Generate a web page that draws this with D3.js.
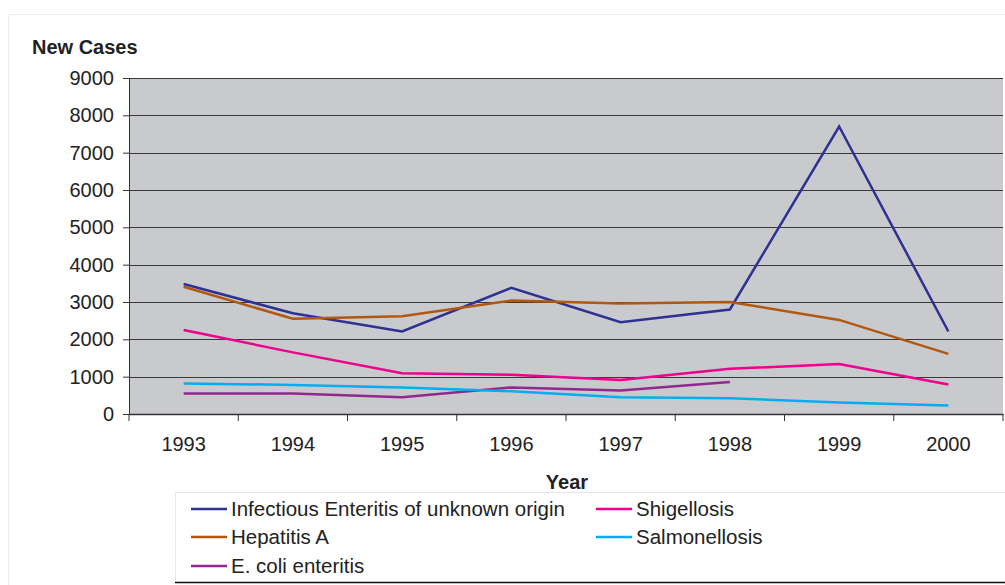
<!DOCTYPE html>
<html>
<head>
<meta charset="utf-8">
<script src="https://cdn.jsdelivr.net/npm/d3@7"></script>
<style>
  body { margin: 0; background: #fff; }
  text { font-family: "Liberation Sans", Arial, sans-serif; fill: #222; }
</style>
</head>
<body>
<script>
// Chart data
const years = ["1993", "1994", "1995", "1996", "1997", "1998", "1999", "2000"];
const yTicks = [0, 1000, 2000, 3000, 4000, 5000, 6000, 7000, 8000, 9000];

const infectious = [3480, 2700, 2210, 3380, 2460, 2800, 7700, 2210];
const hepatitisA = [3410, 2550, 2620, 3040, 2960, 3000, 2520, 1610];
const shigellosis = [2250, 1650, 1090, 1050, 910, 1210, 1340, 790];
const salmonellosis = [820, 780, 710, 610, 450, 420, 310, 230];
const ecoli = [550, 550, 450, 710, 630, 860, null, null];

const seriesNames = ["Infectious Enteritis of unknown origin", "Hepatitis A", "E. coli enteritis", "Shigellosis", "Salmonellosis"];
const seriesValues = [infectious, hepatitisA, ecoli, shigellosis, salmonellosis];
const seriesColors = ["#2e3192", "#b0580f", "#92278f", "#ec008c", "#00aeef"];

// Size and plot area
const width = 1005;
const height = 585;
const plotLeft = 129;
const plotRight = 1003;
const plotTop = 78;
const plotBottom = 414;

const svg = d3.select("body").append("svg")
    .attr("width", width)
    .attr("height", height);

// Faint outer frame
svg.append("rect")
    .attr("x", 8.5).attr("y", 14.5)
    .attr("width", width).attr("height", height)
    .attr("fill", "none").attr("stroke", "#eeeeee");

// Scales
let xScale = d3.scaleBand().domain(years).range([plotLeft, plotRight]).padding(0);
let yScale = d3.scaleLinear().domain([0, 9000]).range([plotBottom, plotTop]);

// Plot background
svg.append("rect")
    .attr("x", plotLeft).attr("y", plotTop)
    .attr("width", plotRight - plotLeft).attr("height", plotBottom - plotTop)
    .attr("fill", "#c9cace");

// Horizontal grid lines
svg.append("g")
    .selectAll("line")
    .data(yTicks.slice(1))
    .enter()
    .append("line")
    .attr("x1", plotLeft).attr("x2", plotRight)
    .attr("y1", d => Math.round(yScale(d)) + 0.5)
    .attr("y2", d => Math.round(yScale(d)) + 0.5)
    .attr("stroke", "#3a3a3a")
    .attr("stroke-width", 1);

// Y axis
let yAxis = d3.axisLeft(yScale).tickValues(yTicks).tickFormat(d3.format("d")).tickSize(6).tickPadding(9);
let yAxisRef = svg.append("g")
    .attr("transform", `translate(${plotLeft}, 0)`)
    .call(yAxis);
yAxisRef.attr("font-size", null);
yAxisRef.selectAll("text").style("font-size", "20px").attr("fill", "#222");
yAxisRef.selectAll("line, path").attr("stroke", "#333");

// X axis, ticks sit on band boundaries
let xAxis = d3.axisBottom(xScale).tickSize(0).tickPadding(23);
let xAxisRef = svg.append("g")
    .attr("transform", `translate(0, ${plotBottom})`)
    .call(xAxis);
xAxisRef.attr("font-size", null);
xAxisRef.select(".domain").attr("stroke", "#333").attr("stroke-width", 1.5);
xAxisRef.selectAll("text").style("font-size", "20px").attr("fill", "#222");

let boundaries = years.map(y => xScale(y)).concat([plotRight]);
xAxisRef.selectAll(".bound")
    .data(boundaries)
    .enter()
    .append("line")
    .attr("x1", d => d).attr("x2", d => d)
    .attr("y1", 0).attr("y2", 7)
    .attr("stroke", "#333");

// Axis titles
svg.append("text")
    .attr("x", 32).attr("y", 54)
    .style("font-size", "20px").style("font-weight", "bold")
    .text("New Cases");
svg.append("text")
    .attr("x", 567).attr("y", 489)
    .attr("text-anchor", "middle")
    .style("font-size", "20px").style("font-weight", "bold")
    .text("Year");

// Series lines
let line = d3.line()
    .defined(v => v !== null)
    .x((v, i) => xScale(years[i]) + xScale.bandwidth() / 2)
    .y(v => yScale(v));

svg.append("g")
    .selectAll("path")
    .data(seriesValues)
    .enter()
    .append("path")
    .attr("d", v => line(v))
    .attr("fill", "none")
    .attr("stroke", (v, i) => seriesColors[i])
    .attr("stroke-width", 2.5);

// Legend
const legendX = 175;
const legendY = 492;
svg.append("rect")
    .attr("x", legendX + 0.5).attr("y", legendY + 0.5)
    .attr("width", width).attr("height", 90)
    .attr("fill", "#fff").attr("stroke", "#e6e6e6");
svg.append("line")
    .attr("x1", legendX).attr("x2", width)
    .attr("y1", 582.5).attr("y2", 582.5)
    .attr("stroke", "#111").attr("stroke-width", 1.5);

const legendCols = [191, 596];
const legendRows = [509, 537, 566];
let legendPos = [[0, 0], [0, 1], [0, 2], [1, 0], [1, 1]];

let items = svg.append("g")
    .selectAll("g")
    .data(seriesNames)
    .enter()
    .append("g")
    .attr("transform", (d, i) => `translate(${legendCols[legendPos[i][0]]}, ${legendRows[legendPos[i][1]]})`);
items.append("line")
    .attr("x1", 0).attr("x2", 36)
    .attr("y1", 0).attr("y2", 0)
    .attr("stroke", (d, i) => seriesColors[i])
    .attr("stroke-width", 2.5);
items.append("text")
    .attr("x", 40).attr("y", 7)
    .style("font-size", "20.5px")
    .text(d => d);
</script>
</body>
</html>
